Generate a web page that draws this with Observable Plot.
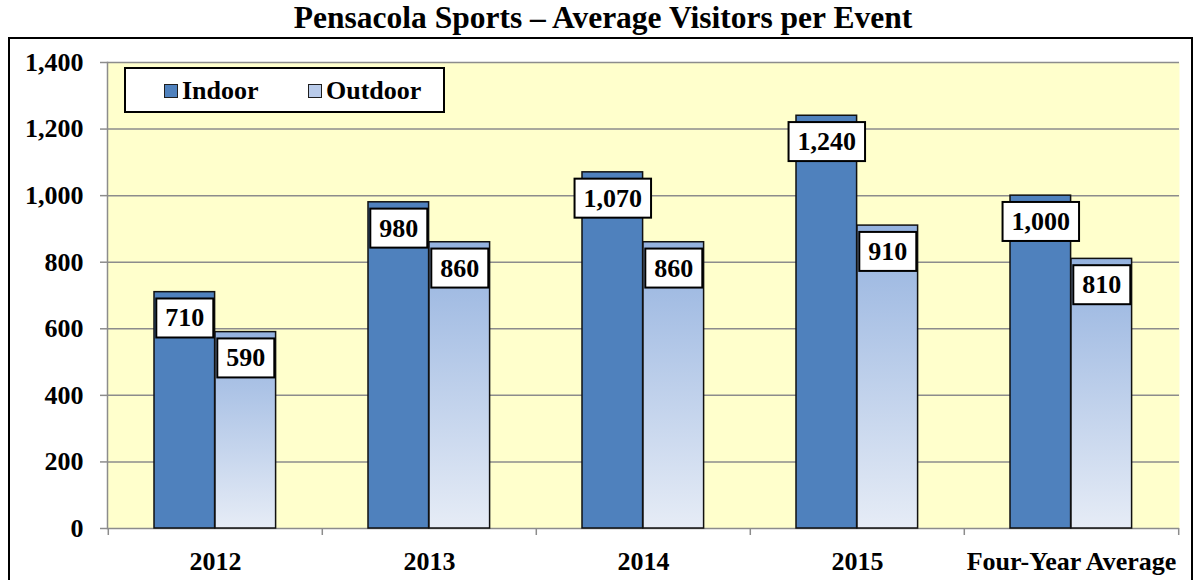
<!DOCTYPE html>
<html><head><meta charset="utf-8">
<script src="https://cdn.jsdelivr.net/npm/d3@7"></script>
<script src="https://cdn.jsdelivr.net/npm/@observablehq/plot@0.6"></script>
<style>
body{margin:0;background:#fff;font-family:"Liberation Serif","Times New Roman",serif;}
#wrap{position:relative;width:1196px;height:580px;overflow:hidden;}
#title{position:absolute;left:0;top:0;width:1186px;padding-left:10px;text-align:center;font-weight:bold;font-size:31.5px;line-height:35px;color:#000;white-space:nowrap;}
#border{position:absolute;left:8px;top:37px;width:1181px;height:620px;border:2px solid #000;pointer-events:none;}
#chart{position:absolute;left:0;top:0;}
#legend{position:absolute;left:124px;top:67px;width:317px;height:42px;border:2px solid #000;background:#fff;font-weight:bold;font-size:26px;line-height:44px;color:#000;}
.item{position:absolute;top:0;white-space:nowrap;}
.sw{display:inline-block;width:12px;height:12px;border:1px solid #1f1f1f;margin-right:4px;vertical-align:1px;}
</style></head>
<body>
<div id="wrap">
  <div id="chart"></div>
  <div id="title"></div>
  <div id="border"></div>
  <div id="legend"></div>
</div>
<script>
const chartTitle = "Pensacola Sports \u2013 Average Visitors per Event";
const categories = ["2012", "2013", "2014", "2015", "Four-Year Average"];
const seriesNames = ["Indoor", "Outdoor"];
const indoor = [710, 980, 1070, 1240, 1000];
const outdoor = [590, 860, 860, 910, 810];
const yTicks = [0, 200, 400, 600, 800, 1000, 1200, 1400];

const W = 1196, H = 580, ML = 107, MR = 17, MT = 62, MB = 52;
const bw = (W - ML - MR) / categories.length;
const barW = 61, outer = 46;
const fmt = d3.format(",");
const rows = categories.map((c, i) => ({category: c, Indoor: indoor[i], Outdoor: outdoor[i]}));
const grid = "#8c8c8c";
const font = "Liberation Serif";

document.getElementById("title").textContent = chartTitle;

const chart = Plot.plot({
  width: W, height: H,
  marginLeft: ML, marginRight: MR, marginTop: MT, marginBottom: MB,
  style: {fontFamily: font, fontWeight: "bold", fontSize: "26px", background: "transparent", color: "#000", overflow: "visible"},
  x: {domain: categories, padding: 0, axis: null, label: null},
  y: {domain: [0, 1400], axis: null, label: null},
  marks: [
    Plot.frame({fill: "#FFFFCC"}),
    Plot.gridY(yTicks, {stroke: grid, strokeOpacity: 1, strokeWidth: 1.5}),
    Plot.frame({anchor: "left", stroke: grid, strokeWidth: 1.5}),
    Plot.axisY(yTicks, {tickSize: 7, tickPadding: 17, tickFormat: fmt, stroke: grid, strokeWidth: 1.5, fill: "#000", fontSize: 26, fontWeight: "bold", label: null}),
    Plot.axisX(categories, {tickSize: 7, tickFormat: () => "", dx: -bw / 2, stroke: grid, strokeWidth: 1.5, label: null}),
    Plot.axisX(categories.slice(-1), {tickSize: 7, tickFormat: () => "", dx: bw / 2, stroke: grid, strokeWidth: 1.5, label: null}),
    Plot.axisX(categories, {tickSize: 0, tickPadding: 23, fill: "#000", fontSize: 26, fontWeight: "bold", label: null}),
    Plot.barY(rows, {x: "category", y: "Indoor", fill: "#4F81BD", stroke: "#111", strokeWidth: 1.5, insetLeft: outer, insetRight: bw - outer - barW}),
    Plot.barY(rows, {x: "category", y: "Outdoor", fill: "url(#outGrad)", stroke: "#111", strokeWidth: 1.5, insetLeft: outer + barW, insetRight: bw - outer - 2 * barW}),
    Plot.text(rows, {x: "category", y: "Indoor", text: d => fmt(d.Indoor), dx: outer + barW / 2 - bw / 2, dy: 26, fontSize: 26, fontWeight: "bold", fill: "#000", lineAnchor: "middle"}),
    Plot.text(rows, {x: "category", y: "Outdoor", text: d => fmt(d.Outdoor), dx: outer + 1.5 * barW - bw / 2, dy: 26, fontSize: 26, fontWeight: "bold", fill: "#000", lineAnchor: "middle"})
  ]
});
document.getElementById("chart").appendChild(chart);

// gradient for outdoor bars
const ns = "http://www.w3.org/2000/svg";
const defs = document.createElementNS(ns, "defs");
defs.innerHTML = '<linearGradient id="outGrad" x1="0" y1="0" x2="0" y2="1"><stop offset="0" stop-color="#94b2df"/><stop offset="1" stop-color="#e6ecf6"/></linearGradient>';
chart.insertBefore(defs, chart.firstChild);

// white boxes behind value labels (the last two mark groups)
const groups = Array.from(chart.children).filter(n => n.tagName.toLowerCase() === "g");
groups.slice(-2).forEach(g => {
  g.querySelectorAll("text").forEach(t => {
    const b = t.getBBox();
    const r = document.createElementNS(ns, "rect");
    const bh = 39, padX = 9;
    r.setAttribute("x", b.x - padX);
    r.setAttribute("y", b.y + b.height / 2 - bh / 2);
    r.setAttribute("width", b.width + 2 * padX);
    r.setAttribute("height", bh);
    r.setAttribute("fill", "#fff");
    r.setAttribute("stroke", "#000");
    r.setAttribute("stroke-width", 2);
    if (t.getAttribute("transform")) r.setAttribute("transform", t.getAttribute("transform"));
    t.parentNode.insertBefore(r, t);
  });
});

// legend
const legendColors = {Indoor: "#4F81BD", Outdoor: "#b9cbea"};
const legendX = [38, 182];
const lg = document.getElementById("legend");
seriesNames.forEach((s, i) => {
  const d = document.createElement("div");
  d.className = "item";
  d.style.left = legendX[i] + "px";
  d.innerHTML = `<span class="sw" style="background:${legendColors[s]}"></span>${s}`;
  lg.appendChild(d);
});
</script>
</body></html>
